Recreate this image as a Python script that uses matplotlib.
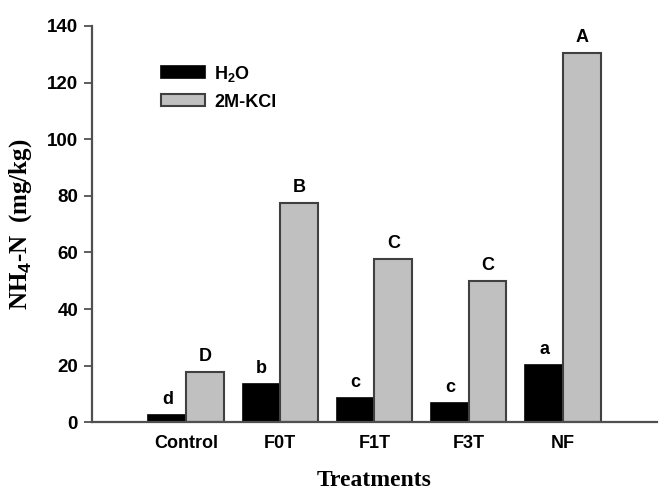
import matplotlib
matplotlib.use('Agg')
import matplotlib.pyplot as plt
import numpy as np

treatments = ['Control', 'F0T', 'F1T', 'F3T', 'NF']
h2o = [2.5, 13.7, 8.5, 6.7, 20.1]
kcl = [17.9, 77.5, 57.7, 50.0, 130.4]
h2o_letters = ['d', 'b', 'c', 'c', 'a']
kcl_letters = ['D', 'B', 'C', 'C', 'A']
yticks = [0, 20, 40, 60, 80, 100, 120, 140]

plt.rcParams['font.family'] = 'Liberation Sans'
plt.rcParams['font.weight'] = 'bold'
plt.rcParams['mathtext.fontset'] = 'custom'
plt.rcParams['mathtext.rm'] = 'Liberation Sans:bold'
plt.rcParams['mathtext.it'] = 'Liberation Sans:bold'
plt.rcParams['mathtext.bf'] = 'Liberation Sans:bold'

fig = plt.figure(figsize=(6.65, 4.95), dpi=100)
ax = fig.add_axes([0.1383, 0.1469, 0.8497, 0.8006])

x = np.arange(len(treatments))
w = 0.4
spine_col = '#505050'

ax.bar(x - w / 2, h2o, width=w, color='black', edgecolor='black',
       linewidth=1.2, label='H$_2$O', zorder=2)
ax.bar(x + w / 2, kcl, width=w, color='#c0c0c0', edgecolor='#404040',
       linewidth=1.5, label='2M-KCl', zorder=2)

# significance letters above bars
for xi, v, t in zip(x - w / 2, h2o, h2o_letters):
    ax.annotate(t, (xi, v), xytext=(0, 5), textcoords='offset points',
                ha='center', va='bottom', fontsize=13, fontweight='bold')
for xi, v, t in zip(x + w / 2, kcl, kcl_letters):
    ax.annotate(t, (xi, v), xytext=(0, 5), textcoords='offset points',
                ha='center', va='bottom', fontsize=13, fontweight='bold')

ax.set_xlim(-1, 5)
ax.set_ylim(0, 140)
ax.set_yticks(yticks)
ax.set_xticks(x)
ax.set_xticklabels(treatments)

for s in ['top', 'right']:
    ax.spines[s].set_visible(False)
for s in ['left', 'bottom']:
    ax.spines[s].set_color(spine_col)
    ax.spines[s].set_linewidth(1.6)

ax.tick_params(axis='y', direction='out', length=6, width=1.3, color=spine_col,
               labelsize=13.5, pad=4)
ax.tick_params(axis='x', length=0, labelsize=13, pad=9)

ax.set_xlabel('Treatments', family='Liberation Serif', fontweight='bold',
              fontsize=17, labelpad=13)
ax.set_ylabel('NH$_4$-N  (mg/kg)', family='Liberation Serif', fontweight='bold',
              fontsize=18, labelpad=9)

ax.legend(loc='upper left', bbox_to_anchor=(0.122, 0.905), frameon=False,
          fontsize=13, handlelength=2.45, handleheight=0.66,
          handletextpad=0.5, labelspacing=0.55, borderpad=0,
          borderaxespad=0)

fig.savefig('out.png', dpi=100)
